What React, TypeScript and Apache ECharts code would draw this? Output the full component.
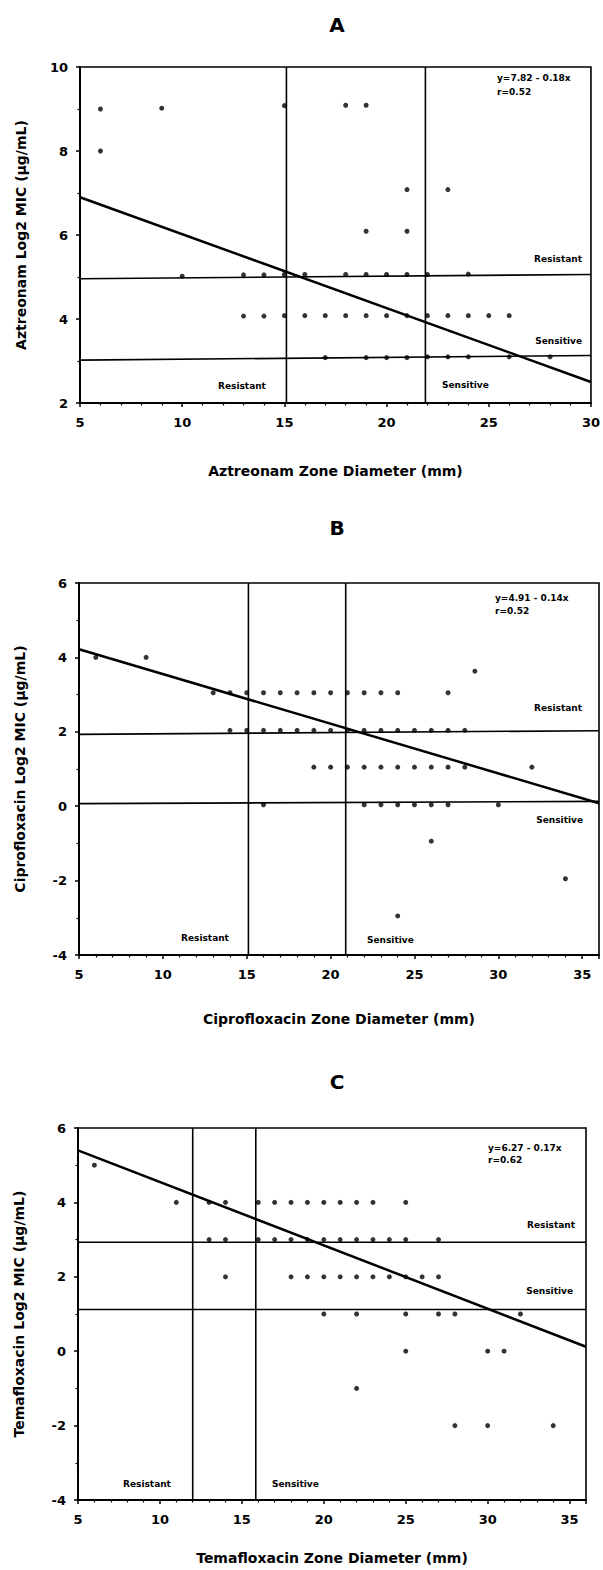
import React, { useEffect, useRef } from "react";
import * as echarts from "echarts";

// ---------- Panel A: Aztreonam ----------
const aztX = [6, 6, 9, 15, 18, 19, 21, 23, 19, 21,
  10, 13, 14, 15, 16, 18, 19, 20, 21, 22, 24,
  13, 14, 15, 16, 17, 18, 19, 20, 21, 22, 23, 24, 25, 26,
  17, 19, 20, 21, 22, 23, 24, 26, 28];
const aztY = [9.0, 8.0, 9.02, 9.08, 9.09, 9.09, 7.08, 7.08, 6.09, 6.09,
  5.02, 5.05, 5.05, 5.06, 5.06, 5.06, 5.06, 5.06, 5.06, 5.06, 5.07,
  4.07, 4.07, 4.08, 4.08, 4.08, 4.08, 4.08, 4.08, 4.08, 4.08, 4.08, 4.08, 4.08, 4.08,
  3.08, 3.08, 3.08, 3.08, 3.1, 3.1, 3.1, 3.1, 3.1];
const aztRegression = [[5, 6.9], [30, 2.5]];
const aztUpper = [[5, 4.96], [30, 5.06]];
const aztLower = [[5, 3.02], [30, 3.13]];
const aztBreakpoints = [15.1, 21.9];

// ---------- Panel B: Ciprofloxacin ----------
const cipX = [6, 9, 28.6,
  13, 14, 15, 16, 17, 18, 19, 20, 21, 22, 23, 24, 27,
  14, 15, 16, 17, 18, 19, 20, 21, 22, 23, 24, 25, 26, 27, 28,
  19, 20, 21, 22, 23, 24, 25, 26, 27, 28, 32,
  16, 22, 23, 24, 25, 26, 27, 30,
  26, 34, 24];
const cipY = [4.0, 4.0, 3.63,
  3.05, 3.05, 3.05, 3.05, 3.05, 3.05, 3.05, 3.05, 3.05, 3.05, 3.05, 3.05, 3.05,
  2.04, 2.04, 2.04, 2.04, 2.04, 2.04, 2.04, 2.04, 2.04, 2.04, 2.04, 2.04, 2.04, 2.04, 2.04,
  1.05, 1.05, 1.05, 1.05, 1.05, 1.05, 1.05, 1.05, 1.05, 1.05, 1.05,
  0.04, 0.04, 0.04, 0.04, 0.04, 0.04, 0.04, 0.04,
  -0.94, -1.95, -2.95];
const cipRegression = [[5, 4.22], [36, 0.08]];
const cipUpper = [[5, 1.93], [36, 2.03]];
const cipLower = [[5, 0.07], [36, 0.13]];
const cipBreakpoints = [15.1, 20.9];

// ---------- Panel C: Temafloxacin ----------
const temX = [6,
  11, 13, 14, 16, 17, 18, 19, 20, 21, 22, 23, 25,
  13, 14, 16, 17, 18, 19, 20, 21, 22, 23, 24, 25, 27,
  14, 18, 19, 20, 21, 22, 23, 24, 25, 26, 27,
  20, 22, 25, 27, 28, 32,
  25, 30, 31,
  22,
  28, 30, 34];
const temY = [5,
  4, 4, 4, 4, 4, 4, 4, 4, 4, 4, 4, 4,
  3, 3, 3, 3, 3, 3, 3, 3, 3, 3, 3, 3, 3,
  2, 2, 2, 2, 2, 2, 2, 2, 2, 2, 2,
  1, 1, 1, 1, 1, 1,
  0, 0, 0,
  -1,
  -2, -2, -2];
const temRegression = [[5, 5.4], [36, 0.12]];
const temUpper = [[5, 2.93], [36, 2.93]];
const temLower = [[5, 1.12], [36, 1.12]];
const temBreakpoints = [12.0, 15.85];

const FONT = "'DejaVu Sans', 'Liberation Sans', sans-serif";
const INK = "#000";

function buildPanel(gi: number, xs: number[], ys: number[], reg: number[][], upper: number[][],
  lower: number[][], vert: number[], yMin: number, yMax: number) {
  const line = (data: number[][], w: number) => ({
    type: "line", xAxisIndex: gi, yAxisIndex: gi, data, symbol: "none", silent: true,
    lineStyle: { color: INK, width: w }, z: 3,
  });
  const series: any[] = [
    {
      type: "scatter", xAxisIndex: gi, yAxisIndex: gi,
      data: xs.map((x, i) => [x, ys[i]]),
      symbolSize: 5, itemStyle: { color: INK }, z: 4,
    },
    line(reg, 2.5),
    line(upper, 1.6),
    line(lower, 1.6),
  ];
  vert.forEach((v) => series.push(line([[v, yMin], [v, yMax]], 1.6)));
  return series;
}

function xAxis(gi: number, max: number, name: string, nameGap: number) {
  return {
    type: "value", gridIndex: gi, min: 5, max, interval: 5,
    name, nameLocation: "middle", nameGap,
    nameTextStyle: { fontFamily: FONT, fontWeight: "bold", fontSize: 14, color: INK },
    axisLine: { show: true, onZero: false, lineStyle: { color: INK, width: 2 } },
    axisTick: { show: true, inside: false, length: 4, lineStyle: { color: INK, width: 1.5 } },
    minorTick: { show: true, splitNumber: 5, length: 2.5, lineStyle: { color: INK, width: 1.2 } },
    splitLine: { show: false },
    axisLabel: {
      margin: 13, fontFamily: FONT, fontWeight: "bold", fontSize: 13, color: INK,
      formatter: (v: number) => (v % 5 === 0 ? String(v) : ""),
    },
  };
}

function yAxis(gi: number, min: number, max: number, name: string) {
  return {
    type: "value", gridIndex: gi, min, max, interval: 2,
    name, nameLocation: "middle", nameGap: 52,
    nameTextStyle: { fontFamily: FONT, fontWeight: "bold", fontSize: 14, color: INK },
    axisLine: { show: true, onZero: false, lineStyle: { color: INK, width: 2 } },
    axisTick: { show: true, length: 4, lineStyle: { color: INK, width: 1.5 } },
    minorTick: { show: true, splitNumber: 2, length: 2.5, lineStyle: { color: INK, width: 1.2 } },
    splitLine: { show: false },
    axisLabel: { margin: 12, fontFamily: FONT, fontWeight: "bold", fontSize: 13, color: INK },
  };
}

function txt(text: string, x: number, y: number, size: number, align = "left") {
  return {
    type: "text", x, y, z: 10,
    style: { text, fill: INK, font: `bold ${size}px ${FONT}`, align, verticalAlign: "middle" },
  };
}

export default function App() {
  const ref = useRef<HTMLDivElement>(null);
  useEffect(() => {
    if (!ref.current) return;
    const chart = echarts.init(ref.current, null, { renderer: "svg" });
    const gridStyle = { show: true, borderColor: INK, borderWidth: 1.6, backgroundColor: "transparent" };
    const option: any = {
      animation: false,
      backgroundColor: "#fff",
      grid: [
        { left: 80, top: 67, width: 512, height: 336, ...gridStyle },
        { left: 79, top: 583, width: 520, height: 372, ...gridStyle },
        { left: 78, top: 1128, width: 508, height: 372, ...gridStyle },
      ],
      xAxis: [
        xAxis(0, 30, "Aztreonam Zone Diameter (mm)", 61),
        xAxis(1, 36, "Ciprofloxacin Zone Diameter (mm)", 57),
        xAxis(2, 36, "Temafloxacin Zone Diameter (mm)", 51),
      ],
      yAxis: [
        yAxis(0, 2, 10, "Aztreonam Log2 MIC (µg/mL)"),
        yAxis(1, -4, 6, "Ciprofloxacin Log2 MIC (µg/mL)"),
        yAxis(2, -4, 6, "Temafloxacin Log2 MIC (µg/mL)"),
      ],
      series: [
        ...buildPanel(0, aztX, aztY, aztRegression, aztUpper, aztLower, aztBreakpoints, 2, 10),
        ...buildPanel(1, cipX, cipY, cipRegression, cipUpper, cipLower, cipBreakpoints, -4, 6),
        ...buildPanel(2, temX, temY, temRegression, temUpper, temLower, temBreakpoints, -4, 6),
      ],
      graphic: [
        txt("A", 337, 25, 20, "center"),
        txt("B", 337, 528, 20, "center"),
        txt("C", 337, 1082, 20, "center"),
        // Panel A annotations
        txt("y=7.82 - 0.18x", 497, 78, 9),
        txt("r=0.52", 497, 92, 9),
        txt("Resistant", 582, 259, 9, "right"),
        txt("Sensitive", 582, 341, 9, "right"),
        txt("Resistant", 218, 386, 9),
        txt("Sensitive", 442, 385, 9),
        // Panel B annotations
        txt("y=4.91 - 0.14x", 495, 598, 9),
        txt("r=0.52", 495, 611, 9),
        txt("Resistant", 582, 708, 9, "right"),
        txt("Sensitive", 583, 820, 9, "right"),
        txt("Resistant", 181, 938, 9),
        txt("Sensitive", 367, 940, 9),
        // Panel C annotations
        txt("y=6.27 - 0.17x", 488, 1148, 9),
        txt("r=0.62", 488, 1160, 9),
        txt("Resistant", 575, 1225, 9, "right"),
        txt("Sensitive", 573, 1291, 9, "right"),
        txt("Resistant", 123, 1484, 9),
        txt("Sensitive", 272, 1484, 9),
      ],
    };
    chart.setOption(option);
    return () => chart.dispose();
  }, []);
  return (
    <div
      ref={ref}
      style={{ position: "absolute", left: 0, top: 0, width: 603, height: 1570, background: "#fff" }}
    />
  );
}
